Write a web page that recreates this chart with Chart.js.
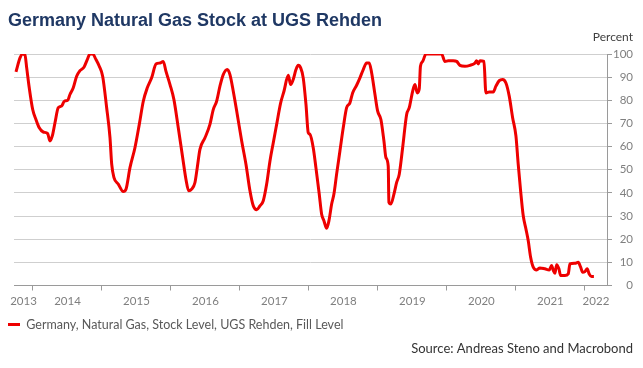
<!DOCTYPE html>
<html>
<head>
<meta charset="utf-8">
<script src="https://cdn.jsdelivr.net/npm/chart.js@4/dist/chart.umd.min.js"></script>
<style>
  html, body { margin: 0; padding: 0; background: #fff; }
</style>
</head>
<body>
<canvas id="chart" width="643" height="368"></canvas>
<script>
// Data (x in decimal years, y in percent)
const dates = [
  2013.754, 2013.812, 2013.851, 2013.884, 2013.909, 2013.946, 2013.996, 2014.043, 2014.091, 2014.149,
  2014.213, 2014.246, 2014.280, 2014.319, 2014.367, 2014.416, 2014.454, 2014.503, 2014.536, 2014.584,
  2014.633, 2014.681, 2014.739, 2014.787, 2014.826, 2014.865, 2014.913, 2014.961, 2015.010, 2015.068,
  2015.116, 2015.141, 2015.174, 2015.236, 2015.309, 2015.348, 2015.406, 2015.478, 2015.541, 2015.599,
  2015.657, 2015.720, 2015.783, 2015.841, 2015.888, 2015.928, 2015.986, 2016.043, 2016.106, 2016.170,
  2016.217, 2016.257, 2016.300, 2016.348, 2016.381, 2016.420, 2016.493, 2016.565, 2016.613, 2016.662,
  2016.710, 2016.758, 2016.816, 2016.855, 2016.903, 2016.961, 2017.025, 2017.087, 2017.145, 2017.193,
  2017.242, 2017.290, 2017.338, 2017.387, 2017.435, 2017.483, 2017.532, 2017.590, 2017.638, 2017.700,
  2017.735, 2017.772, 2017.812, 2017.845, 2017.880, 2017.917, 2017.957, 2017.990, 2018.014, 2018.062,
  2018.101, 2018.149, 2018.184, 2018.217, 2018.257, 2018.290, 2018.329, 2018.362, 2018.401, 2018.449,
  2018.497, 2018.546, 2018.594, 2018.633, 2018.691, 2018.739, 2018.787, 2018.836, 2018.874, 2018.909,
  2018.957, 2018.996, 2019.043, 2019.087, 2019.116, 2019.149, 2019.159, 2019.188, 2019.232, 2019.271,
  2019.309, 2019.358, 2019.416, 2019.454, 2019.503, 2019.536, 2019.570, 2019.599, 2019.616, 2019.648,
  2019.696, 2019.754, 2019.923, 2019.971, 2020.019, 2020.091, 2020.141, 2020.188, 2020.261, 2020.333,
  2020.406, 2020.430, 2020.454, 2020.478, 2020.536, 2020.565, 2020.613, 2020.671, 2020.710, 2020.758,
  2020.807, 2020.855, 2020.903, 2020.952, 2021.000, 2021.033, 2021.068, 2021.106, 2021.145, 2021.178,
  2021.213, 2021.251, 2021.300, 2021.348, 2021.420, 2021.483, 2021.517, 2021.541, 2021.565, 2021.590,
  2021.623, 2021.648, 2021.710, 2021.758, 2021.783, 2021.855, 2021.903, 2021.938, 2021.967, 2022.000,
  2022.033, 2022.062, 2022.096, 2022.130
];
const fillLevel = [
  92.3, 98.3, 100, 99.6, 94.0, 85.4, 76.0, 71.7, 68.1, 66.3,
  65.6, 62.4, 64.6, 70.3, 76.8, 77.5, 79.6, 80.0, 82.5, 85.4,
  90.4, 92.8, 94.3, 97.6, 100, 100, 97.6, 94.7, 90.4, 76.8,
  64.0, 52.4, 46.6, 43.8, 40.6, 41.6, 50.9, 59.5, 69.6, 79.6,
  85.4, 89.7, 95.7, 96.1, 96.8, 92.5, 86.8, 80.3, 68.1, 55.2,
  45.9, 40.9, 41.6, 44.5, 50.9, 58.8, 63.8, 69.6, 76.0, 79.6,
  86.1, 91.1, 93.3, 91.1, 83.9, 73.9, 62.4, 52.4, 40.9, 34.4,
  32.7, 34.4, 36.6, 43.8, 53.8, 61.7, 69.6, 78.9, 83.9, 90.8,
  86.8, 89.0, 93.3, 95.1, 94.0, 89.7, 78.2, 66.0, 65.3, 59.5,
  50.9, 39.5, 30.8, 28.0, 24.7, 28.0, 35.2, 39.5, 48.1, 58.1,
  68.1, 76.8, 78.9, 83.2, 86.5, 89.7, 93.3, 96.1, 96.1, 91.8,
  82.5, 75.3, 71.7, 62.4, 55.2, 51.6, 35.9, 35.2, 39.5, 44.5,
  48.1, 59.5, 73.9, 76.8, 83.9, 86.8, 83.2, 85.0, 94.7, 96.8,
  100, 100, 100, 96.8, 97.1, 97.1, 96.8, 95.1, 94.7, 95.1,
  96.1, 97.1, 95.7, 97.1, 96.8, 83.2, 83.6, 83.6, 86.1, 88.5,
  89.0, 87.5, 81.8, 72.5, 64.6, 52.4, 40.9, 30.1, 24.4, 19.4,
  12.2, 7.9, 6.7, 7.6, 7.2, 6.7, 8.6, 6.5, 5.3, 9.0,
  7.2, 4.3, 4.3, 5.0, 9.3, 9.6, 10.0, 7.9, 5.7, 6.0,
  7.2, 5.0, 3.9, 3.9
];
const yearLabels = ['2013', '2014', '2015', '2016', '2017', '2018', '2019', '2020', '2021', '2022'];
const xMin = 2013.725, xMax = 2022.32;
const seriesName = 'Germany, Natural Gas, Stock Level, UGS Rehden, Fill Level';
const titleText = 'Germany Natural Gas Stock at UGS Rehden';
const sourceText = 'Source: Andreas Steno and Macrobond';

const RED = '#ee0000';
const GRID = '#cfcfcf';
const AXIS = '#9a9a9a';
const LABEL = '#7f7f7f';
const smallFont = 'Lato, "Open Sans", sans-serif';

// year boundaries get tick marks, year labels sit in the middle of each year
const bounds = yearLabels.slice(1).map(Number);
const labelPos = yearLabels.map(y => {
  const a = Math.max(+y, xMin), b = Math.min(+y + 1, xMax);
  return (a + b) / 2;
});

const percentLabel = {
  id: 'percentLabel',
  afterDraw(chart){
    const ctx = chart.ctx;
    ctx.save();
    ctx.font = '12px ' + smallFont;
    ctx.fillStyle = '#404040';
    ctx.textAlign = 'right';
    ctx.textBaseline = 'alphabetic';
    ctx.fillText('Percent', 633, 41);
    ctx.restore();
  }
};

new Chart(document.getElementById('chart'), {
  type: 'line',
  data: {
    datasets: [{
      label: seriesName,
      data: dates.map((d, i) => ({ x: d, y: fillLevel[i] })),
      borderColor: RED,
      backgroundColor: RED,
      borderWidth: 3,
      pointRadius: 0,
      cubicInterpolationMode: 'monotone',
      yAxisID: 'y'
    }]
  },
  options: {
    responsive: false,
    animation: false,
    layout: { padding: { left: 8, right: 10, top: 0, bottom: 0 } },
    scales: {
      x: {
        type: 'linear',
        min: xMin,
        max: xMax,
        afterBuildTicks(scale){
          scale.ticks = bounds.concat(labelPos).sort((a, b) => a - b).map(v => ({ value: v }));
        },
        afterFit(scale){ scale.height = 32.75; },
        ticks: {
          autoSkip: false,
          maxRotation: 0,
          padding: 3.5,
          color: LABEL,
          font: { family: smallFont, size: 11.5 },
          callback: v => {
            const i = labelPos.indexOf(v);
            return i >= 0 ? yearLabels[i] : '';
          }
        },
        grid: {
          drawOnChartArea: false,
          drawTicks: true,
          tickLength: 5,
          tickColor: c => (c.tick && Number.isInteger(c.tick.value)) ? AXIS : 'rgba(0,0,0,0)'
        },
        border: { display: true, color: AXIS }
      },
      gap: {
        type: 'linear',
        position: 'left',
        display: true,
        grid: { display: false },
        border: { display: false },
        ticks: { display: false },
        afterFit(scale){ scale.width = 6; }
      },
      y: {
        type: 'linear',
        position: 'right',
        min: 0,
        max: 100,
        afterFit(scale){ scale.width = 26; },
        ticks: {
          stepSize: 10,
          padding: 3,
          crossAlign: 'far',
          color: LABEL,
          font: { family: smallFont, size: 11.5 }
        },
        grid: { color: GRID, lineWidth: 1, drawTicks: true, tickLength: 5, tickColor: AXIS },
        border: { display: true, color: AXIS }
      }
    },
    plugins: {
      title: {
        display: true,
        text: titleText,
        align: 'start',
        color: '#1f3864',
        font: { family: '"Liberation Sans", Arial, sans-serif', size: 18, weight: 'bold' },
        padding: { top: 10, bottom: 22.4 }
      },
      legend: {
        position: 'bottom',
        align: 'start',
        labels: {
          boxWidth: 12,
          boxHeight: 3,
          padding: 0,
          color: '#595959',
          font: { family: smallFont, size: 12.5 },
          generateLabels: chart => [{
            text: seriesName,
            fillStyle: RED,
            strokeStyle: RED,
            lineWidth: 0,
            hidden: false,
            datasetIndex: 0,
            fontColor: '#595959'
          }]
        }
      },
      subtitle: {
        display: true,
        position: 'bottom',
        align: 'end',
        text: sourceText,
        color: '#333333',
        font: { family: smallFont, size: 13 },
        padding: { top: 0, bottom: 11.65 }
      },
      tooltip: { enabled: false }
    }
  },
  plugins: [percentLabel]
});
</script>
</body>
</html>
